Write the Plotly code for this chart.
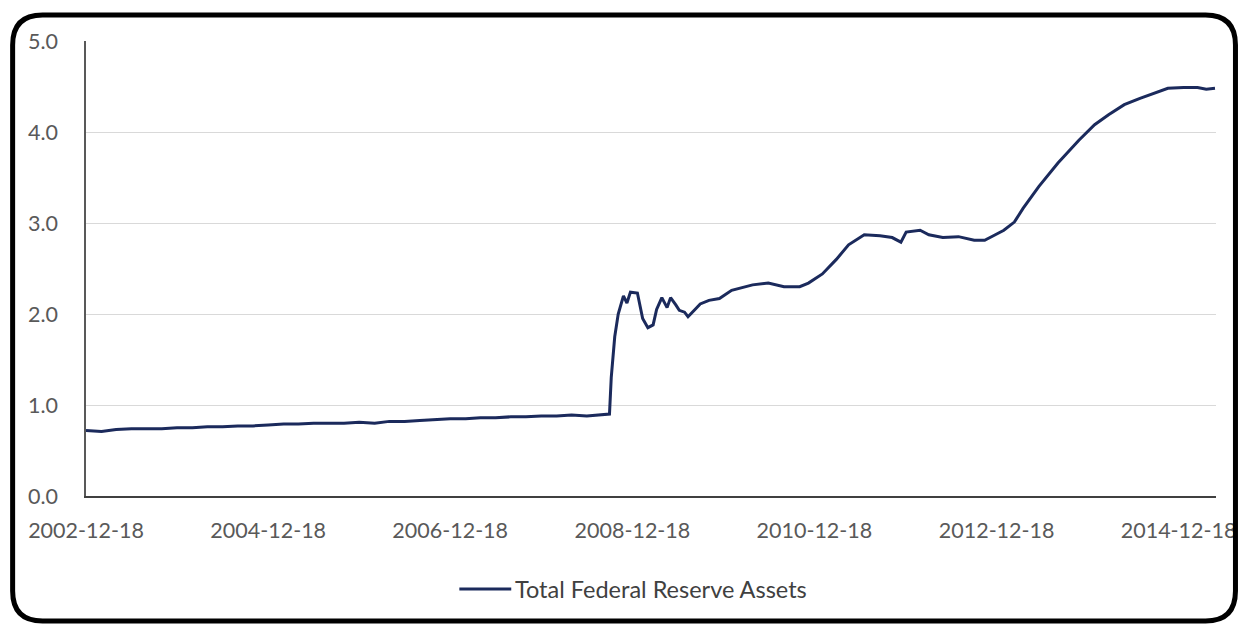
import plotly.graph_objects as go

# Weekly-reporting dates sampled from the H.4.1 series (trillions of USD)
dates = [
    "2002-12-18", "2003-02-18", "2003-04-18", "2003-06-18", "2003-08-18", "2003-10-18",
    "2003-12-18", "2004-02-18", "2004-04-18", "2004-06-18", "2004-08-18", "2004-10-18",
    "2004-12-18", "2005-02-18", "2005-04-18", "2005-06-18", "2005-08-18", "2005-10-18",
    "2005-12-18", "2006-02-18", "2006-04-18", "2006-06-18", "2006-08-18", "2006-10-18",
    "2006-12-18", "2007-02-18", "2007-04-18", "2007-06-18", "2007-08-18", "2007-10-18",
    "2007-12-18", "2008-02-18", "2008-04-18", "2008-06-18", "2008-08-18", "2008-09-17",
    "2008-09-24", "2008-10-08", "2008-10-22", "2008-11-12", "2008-11-26", "2008-12-10",
    "2009-01-07", "2009-01-28", "2009-02-18", "2009-03-11", "2009-03-25", "2009-04-15",
    "2009-05-06", "2009-05-20", "2009-06-10", "2009-06-24", "2009-07-15", "2009-07-29",
    "2009-08-26", "2009-09-16", "2009-10-21", "2009-12-02", "2010-01-20", "2010-04-14",
    "2010-06-16", "2010-08-18", "2010-10-20", "2010-11-24", "2011-01-19", "2011-03-16",
    "2011-05-04", "2011-07-06", "2011-09-07", "2011-10-26", "2011-11-30", "2011-12-21",
    "2012-02-15", "2012-03-21", "2012-05-16", "2012-07-18", "2012-09-19", "2012-10-31",
    "2012-12-05", "2013-01-16", "2013-02-27", "2013-04-03", "2013-06-05", "2013-08-21",
    "2013-11-13", "2014-01-15", "2014-03-12", "2014-05-14", "2014-07-16", "2014-09-17",
    "2014-11-05", "2015-01-07", "2015-03-04", "2015-04-08", "2015-05-13",
]

total_assets = [
    0.72, 0.71, 0.73, 0.74, 0.74, 0.74,
    0.75, 0.75, 0.76, 0.76, 0.77, 0.77,
    0.78, 0.79, 0.79, 0.80, 0.80, 0.80,
    0.81, 0.80, 0.82, 0.82, 0.83, 0.84,
    0.85, 0.85, 0.86, 0.86, 0.87, 0.87,
    0.88, 0.88, 0.89, 0.88, 0.89, 0.90,
    1.30, 1.75, 2.00, 2.20, 2.12, 2.24,
    2.23, 1.95, 1.85, 1.88, 2.05, 2.18,
    2.07, 2.18, 2.10, 2.04, 2.02, 1.97,
    2.05, 2.11, 2.15, 2.17, 2.26, 2.32,
    2.34, 2.30, 2.30, 2.34, 2.44, 2.60,
    2.76, 2.87, 2.86, 2.84, 2.79, 2.90,
    2.92, 2.87, 2.84, 2.85, 2.81, 2.81,
    2.86, 2.92, 3.01, 3.16, 3.40, 3.66,
    3.91, 4.08, 4.19, 4.30, 4.37, 4.43,
    4.48, 4.49, 4.49, 4.47, 4.48,
]

tick_dates = ["2002-12-18", "2004-12-18", "2006-12-18", "2008-12-18",
              "2010-12-18", "2012-12-18", "2014-12-18"]
series_name = "Total Federal Reserve Assets"

FONT = "Lato, 'Liberation Sans', sans-serif"
LINE_COLOR = "#1B2A5C"
W, H = 1248, 629
ML, MR, MT, MB = 86, 30, 41, 133
PW, PH = W - ML - MR, H - MT - MB


def px(x):
    return (x - ML) / PW


def py(y):
    return (H - MB - y) / PH


# rounded frame around the whole chart, expressed in paper units
L, R, T, B, r = 12.5, 1237.5, 15.0, 621.0, 30.0
frame = (
    f"M {px(L + r)},{py(T)} L {px(R - r)},{py(T)} "
    f"Q {px(R)},{py(T)} {px(R)},{py(T + r)} "
    f"L {px(R)},{py(B - r)} Q {px(R)},{py(B)} {px(R - r)},{py(B)} "
    f"L {px(L + r)},{py(B)} Q {px(L)},{py(B)} {px(L)},{py(B - r)} "
    f"L {px(L)},{py(T + r)} Q {px(L)},{py(T)} {px(L + r)},{py(T)} Z"
)

fig = go.Figure()
fig.add_trace(go.Scatter(
    x=dates, y=total_assets, mode="lines", name=series_name,
    line=dict(color=LINE_COLOR, width=3),
))

# legend key below the axis: a short line sample followed by the series name
legend_y = 589
fig.add_shape(type="line", xref="paper", yref="paper",
              x0=px(460), x1=px(512), y0=py(legend_y), y1=py(legend_y),
              line=dict(color=LINE_COLOR, width=3))
fig.add_annotation(xref="paper", yref="paper", x=px(514), y=py(legend_y),
                   xanchor="left", yanchor="middle", showarrow=False,
                   text=series_name,
                   font=dict(family=FONT, size=23.5, color="#404040"))

fig.update_layout(
    width=W, height=H,
    margin=dict(l=ML, r=MR, t=MT, b=MB),
    paper_bgcolor="white", plot_bgcolor="white",
    font=dict(family=FONT, color="#595959", size=21),
    showlegend=False,
    xaxis=dict(
        type="date", range=["2002-12-18", "2015-05-17"],
        tickvals=tick_dates, ticktext=tick_dates,
        showgrid=False, zeroline=False,
        showline=True, linecolor="#404040", linewidth=2,
        ticks="", ticklabelstandoff=14,
        tickfont=dict(family=FONT, size=21.5, color="#595959"),
    ),
    yaxis=dict(
        range=[0, 5], dtick=1, tickformat=".1f",
        showgrid=True, gridcolor="#D9D9D9", gridwidth=1,
        zeroline=False, showline=True, linecolor="#595959", linewidth=1.5,
        ticks="", ticklabelstandoff=22,
        tickfont=dict(family=FONT, size=21.5, color="#595959"),
    ),
)
fig.add_shape(type="path", xref="paper", yref="paper", path=frame,
              line=dict(color="black", width=5), fillcolor="rgba(0,0,0,0)",
              layer="above")

fig.write_html("out.html")
